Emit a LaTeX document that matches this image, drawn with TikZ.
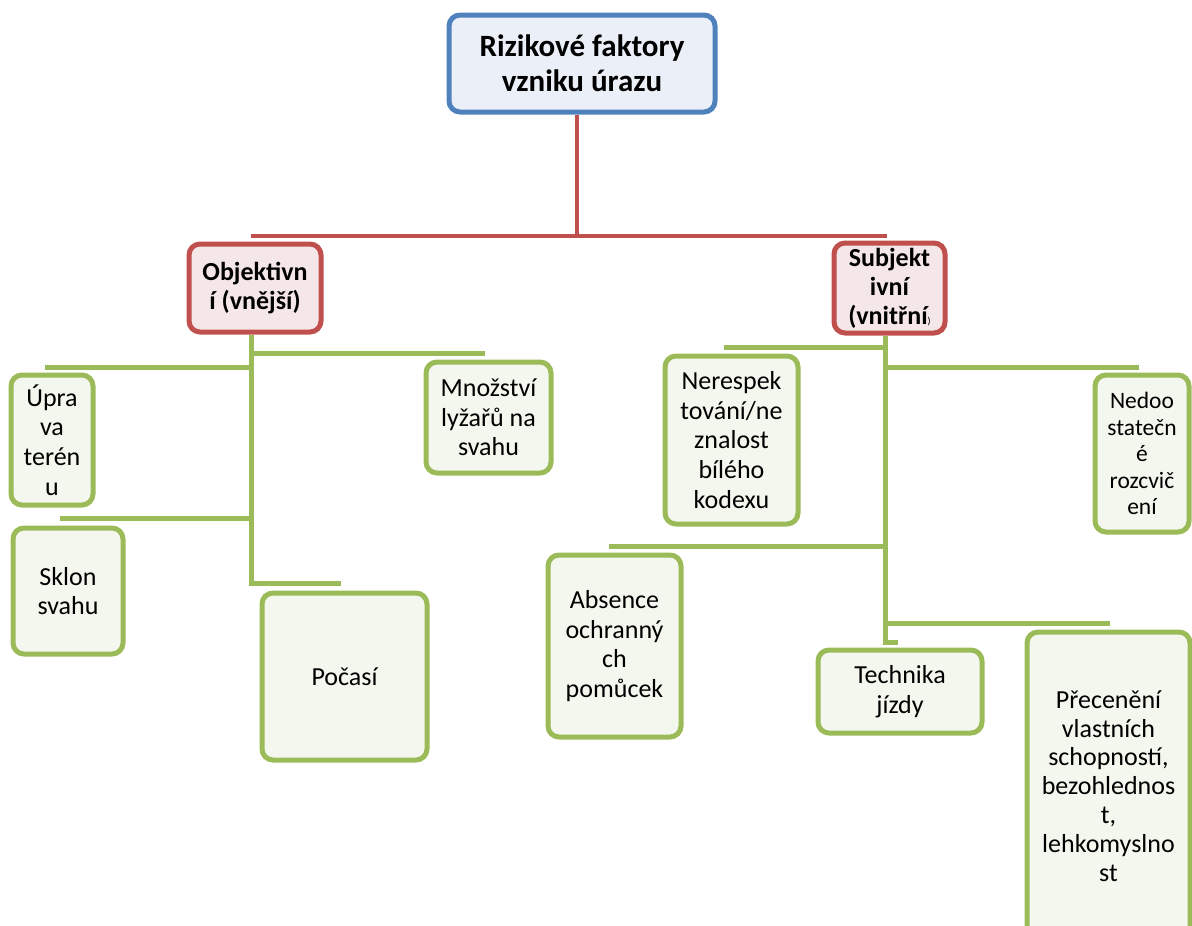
\documentclass[tikz,border=0pt]{standalone}
\usepackage{fontspec}
\setmainfont{Carlito}
\definecolor{zelena}{HTML}{9BBB59}
\definecolor{zelenafill}{HTML}{F4F7EE}
\definecolor{cervena}{HTML}{C0504D}
\definecolor{cervenafill}{HTML}{F5E7E7}
\definecolor{modra}{HTML}{4F81BD}
\definecolor{modrafill}{HTML}{EBF0F8}
\begin{document}
\begin{tikzpicture}[x=1pt,y=-1pt]
            \tikzset{krabice/.style={draw, rounded corners=11pt, line width=5pt, inner sep=0pt, align=center},
                     listek/.style={krabice, draw=zelena, fill=zelenafill, font=\fontsize{26}{29.6}\selectfont},
                     skupina/.style={krabice, draw=cervena, fill=cervenafill, font=\bfseries\fontsize{26}{29}\selectfont},
                     vetev/.style={line width=5pt, draw=zelena},
                     kmen/.style={line width=4.5pt, draw=cervena}}
            \useasboundingbox (0,0) rectangle (1192,926);
            % hlavni uzel
            \node[krabice, draw=modra, fill=modrafill, font=\bfseries\fontsize{31}{35}\selectfont,
                  minimum width=266pt, minimum height=97pt] (rizika) at (582,63.5) {Rizikové faktory\\vzniku úrazu};
            \node[skupina, minimum width=132pt, minimum height=88pt] (objektivni) at (255,288) {Objektivn\\í (vnější)};
            \node[skupina, minimum width=111pt, minimum height=90pt] (subjektivni) at (889.5,288)
                 {Subjekt\\ivní\\(vnitřní{\mdseries\fontsize{10}{10}\selectfont)}};
            % objektivni faktory
            \node[listek, minimum width=82pt, minimum height=130pt] (uprava) at (52,440) {Úpra\\va\\terén\\u};
            \node[listek, minimum width=125pt, minimum height=111pt] (mnozstvi) at (488.5,417.5) {Množství\\lyžařů na\\svahu};
            \node[listek, minimum width=110pt, minimum height=126pt] (sklon) at (68,591) {Sklon\\svahu};
            \node[listek, minimum width=165pt, minimum height=167pt] (pocasi) at (344.5,676.5) {Počasí};
            % subjektivni faktory
            \node[listek, minimum width=133pt, minimum height=168pt] (neresp) at (731.5,440) {Nerespek\\tování/ne\\znalost\\bílého\\kodexu};
            \node[listek, minimum width=94pt, minimum height=157pt, font=\fontsize{23.5}{26.5}\selectfont] (nedo) at (1142,453.5)
                 {Nedoo\\statečn\\é\\rozcvič\\ení};
            \node[listek, minimum width=133pt, minimum height=182pt] (absence) at (614.5,646) {Absence\\ochranný\\ch\\pomůcek};
            \node[listek, minimum width=164pt, minimum height=83pt] (technika) at (900,691.5) {Technika\\jízdy};
            \node[listek, minimum width=163pt, minimum height=308pt, font=\fontsize{26}{28.8}\selectfont] (precen) at (1108.5,786)
                 {Přecenění\\vlastních\\schopností,\\bezohlednos\\t,\\lehkomyslno\\st};
            % cervene spojeni
            \coordinate (kRedL) at (251,236);
            \coordinate (kRedM) at (577,236);
            \coordinate (kRedR) at (887,236);
            \draw[kmen] (rizika.south -| kRedM) -- (kRedM);
            \draw[kmen] (kRedL) -- (kRedR);
            % leva vetev
            \coordinate (kTrunkL) at (251,583);
            \coordinate (kMnoz) at (485,353);
            \coordinate (kUprava) at (45,367);
            \coordinate (kSklon) at (60,518);
            \coordinate (kPocasi) at (341,583);
            \draw[vetev] (objektivni.south -| kTrunkL) -- (kTrunkL) -- (kPocasi);
            \draw[vetev] (kMnoz -| kTrunkL) -- (kMnoz);
            \draw[vetev] (kUprava -| kTrunkL) -- (kUprava);
            \draw[vetev] (kSklon -| kTrunkL) -- (kSklon);
            % prava vetev
            \coordinate (kTrunkR) at (885,642);
            \coordinate (kNeresp) at (724,347);
            \coordinate (kNedo) at (1139,367);
            \coordinate (kAbs) at (609,546);
            \coordinate (kPrec) at (1110,623);
            \coordinate (kTech) at (898,642);
            \draw[vetev] (subjektivni.south -| kTrunkR) -- (kTrunkR) -- (kTech);
            \draw[vetev] (kNeresp -| kTrunkR) -- (kNeresp);
            \draw[vetev] (kNedo -| kTrunkR) -- (kNedo);
            \draw[vetev] (kAbs -| kTrunkR) -- (kAbs);
            \draw[vetev] (kPrec -| kTrunkR) -- (kPrec);
        \end{tikzpicture}
\end{document}
